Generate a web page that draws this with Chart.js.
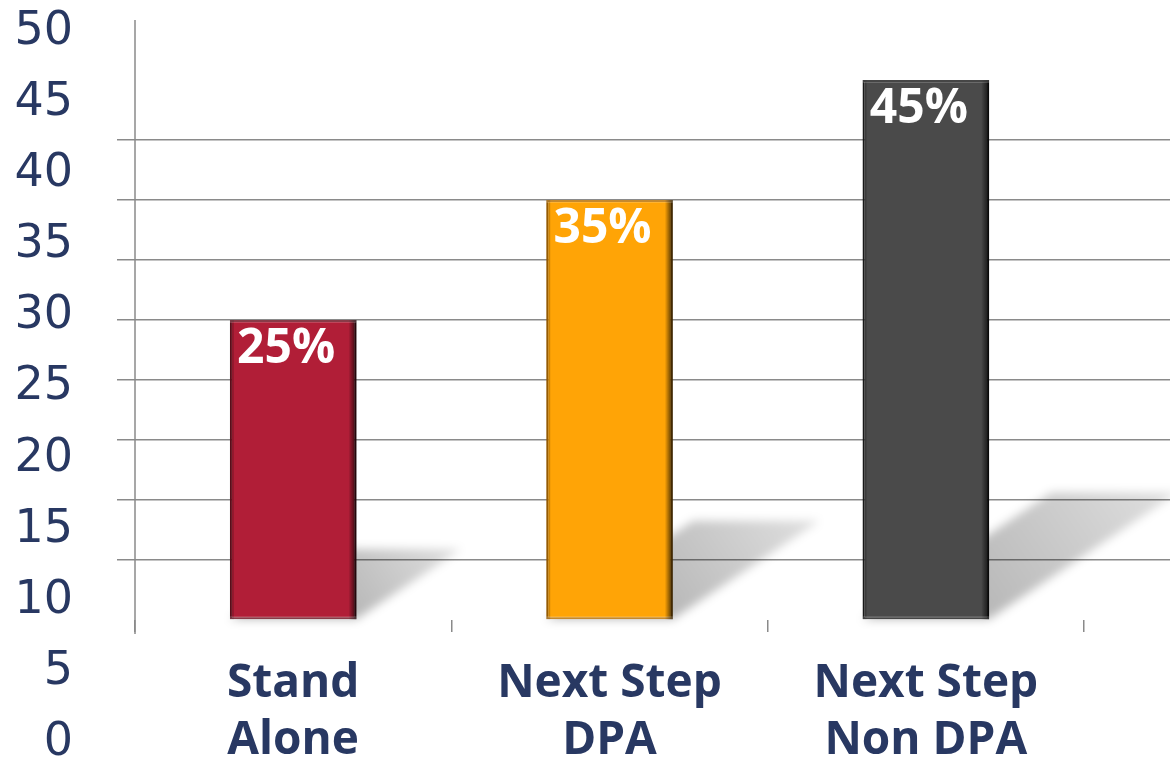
<!DOCTYPE html>
<html lang="en">
<head>
<meta charset="UTF-8">
<title>Stand Alone vs Next Step</title>
<script src="https://cdn.jsdelivr.net/npm/chart.js@4.4.1/dist/chart.umd.min.js"></script>
<style>
  html, body { margin: 0; padding: 0; background: #fff; }
  #wrap { width: 1170px; height: 763px; position: relative; }
</style>
</head>
<body>
<div id="wrap"><canvas id="chart"></canvas></div>
<script>
// chart data
const categories = [['Stand', 'Alone'], ['Next Step', 'DPA'], ['Next Step', 'Non DPA']];
const values = [25, 35, 45];
const yTickLabels = [0, 5, 10, 15, 20, 25, 30, 35, 40, 45, 50];

const barColors = ['#B11E37', '#FFA406', '#4A4A4A'];
const barEdges = ['#6E1020', '#B86F00', '#1E1E1E'];
const NAVY = '#283862';
const GRID = '#8A8A8A';

// the slide only shows grid lines from 5 up to 40
function gridColor(ctx) {
    const v = ctx.tick ? ctx.tick.value : null;
    return v !== null && v >= 5 && v <= 40 ? GRID : 'rgba(0,0,0,0)';
}

// shadows, axis line, bevel and value labels
const barDecor = {
    id: 'barDecor',
    beforeDatasetsDraw(chart) {
        const ctx = chart.ctx;
        const yScale = chart.scales.y;
        const meta = chart.getDatasetMeta(0);

        // vertical axis line
        ctx.save();
        ctx.strokeStyle = GRID;
        ctx.lineWidth = 1.5;
        ctx.beginPath();
        ctx.moveTo(chart.chartArea.left, yScale.getPixelForValue(50));
        ctx.lineTo(chart.chartArea.left, yScale.getPixelForValue(0) + 14);
        ctx.stroke();
        ctx.restore();

        // cast shadows behind the bars
        ctx.save();
        ctx.filter = 'blur(5px)';
        meta.data.forEach(bar => {
            const p = bar.getProps(['x', 'y', 'base', 'width'], true);
            const h = p.base - p.y;
            const left = p.x - p.width / 2, right = p.x + p.width / 2;
            const dx = h * 0.35, dy = h * 0.235;
            const g = ctx.createLinearGradient(right, p.base, right + dx, p.base - dy);
            g.addColorStop(0, 'rgba(0,0,0,0.28)');
            g.addColorStop(1, 'rgba(0,0,0,0.12)');
            ctx.fillStyle = g;
            ctx.beginPath();
            ctx.moveTo(left, p.base);
            ctx.lineTo(right, p.base);
            ctx.lineTo(right + dx, p.base - dy);
            ctx.lineTo(left + dx, p.base - dy);
            ctx.closePath();
            ctx.fill();
        });
        ctx.restore();
    },
    afterDatasetsDraw(chart) {
        const ctx = chart.ctx;
        const meta = chart.getDatasetMeta(0);
        ctx.save();
        meta.data.forEach((bar, i) => {
            const p = bar.getProps(['x', 'y', 'base', 'width'], true);
            const h = p.base - p.y;
            const left = p.x - p.width / 2, right = p.x + p.width / 2;

            // bevel: dark right edge, soft left edge, light top
            const g = ctx.createLinearGradient(right - 8, 0, right, 0);
            g.addColorStop(0, 'rgba(0,0,0,0)');
            g.addColorStop(1, 'rgba(0,0,0,0.75)');
            ctx.fillStyle = g;
            ctx.fillRect(right - 8, p.y, 8, h);
            ctx.fillStyle = 'rgba(0,0,0,0.18)';
            ctx.fillRect(left, p.y, 4, h);
            ctx.fillStyle = 'rgba(255,255,255,0.18)';
            ctx.fillRect(left, p.y, p.width, 3);
            ctx.fillRect(left, p.base - 3, p.width, 3);

            // value label
            ctx.fillStyle = '#FFFFFF';
            ctx.font = 'bold 48px "Open Sans"';
            ctx.textAlign = 'center';
            ctx.textBaseline = 'alphabetic';
            ctx.fillText(values[i] + '%', p.x - 7, p.y + 43);
        });
        ctx.restore();
    }
};

new Chart(document.getElementById('chart'), {
    type: 'bar',
    data: {
        labels: categories,
        datasets: [{
            data: values,
            backgroundColor: barColors,
            borderColor: barEdges,
            borderWidth: 2,
            borderSkipped: false,
            barPercentage: 0.4,
            categoryPercentage: 1
        }]
    },
    options: {
        responsive: true,
        maintainAspectRatio: false,
        animation: false,
        events: [],
        layout: { padding: { top: 32, bottom: 20, left: 0, right: 0 } },
        plugins: {
            legend: { display: false },
            tooltip: { enabled: false }
        },
        scales: {
            x: {
                type: 'category',
                position: { y: 0 },
                offset: true,
                border: { display: false },
                grid: {
                    offset: true,
                    drawOnChartArea: false,
                    drawTicks: true,
                    tickLength: 12,
                    color: GRID,
                    lineWidth: 1.5
                },
                ticks: {
                    autoSkip: false,
                    maxRotation: 0,
                    padding: 23,
                    color: NAVY,
                    font: { family: "'Open Sans'", size: 46, weight: 'bold', lineHeight: 1.25 }
                }
            },
            y: {
                type: 'linear',
                position: 'left',
                weight: 0,
                min: -10.25,
                max: 49,
                border: { display: false },
                grid: { color: gridColor, lineWidth: 1.5, drawTicks: true, tickLength: 18 },
                ticks: { stepSize: 5, display: false },
                afterFit(scale) { scale.width = 18; }
            },
            yLabels: {
                type: 'linear',
                position: 'left',
                weight: 1,
                min: 0,
                max: 50,
                border: { display: false },
                grid: { display: false, drawTicks: false, tickLength: 0 },
                ticks: {
                    padding: 44,
                    color: NAVY,
                    font: { family: "'DejaVu Sans'", size: 46 }
                },
                afterBuildTicks(scale) {
                    scale.ticks = yTickLabels.map(v => ({ value: v }));
                },
                afterFit(scale) {
                    scale.width = 117;
                    scale.paddingTop = 0;
                    scale.paddingBottom = 0;
                }
            },
            yRight: {
                type: 'linear',
                position: 'right',
                min: -10.25,
                max: 49,
                border: { display: false },
                grid: { color: gridColor, lineWidth: 1.5, drawOnChartArea: false, drawTicks: true, tickLength: 86 },
                ticks: { stepSize: 5, display: false },
                afterFit(scale) { scale.width = 86; }
            }
        }
    },
    plugins: [barDecor]
});
</script>
</body>
</html>
